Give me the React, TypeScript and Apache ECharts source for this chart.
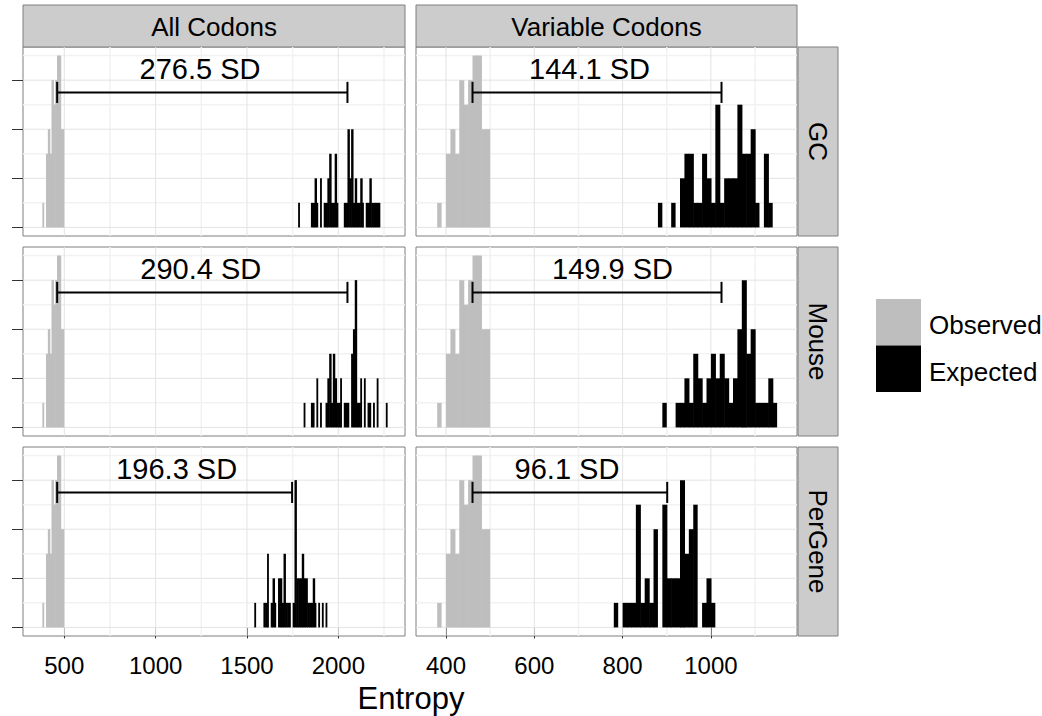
import React, { useEffect, useRef } from "react";
import * as echarts from "echarts";

const rowLabels = ["GC", "Mouse", "PerGene"];
const colLabels = ["All Codons", "Variable Codons"];
const legendLabels = ["Observed", "Expected"];
const xAxisTitle = "Entropy";

const binWidth = 10;

// histogram bins: [bin start, count]
const observedBins = [[380,1],[400,3],[410,4],[420,3],[430,6],[440,5],[450,6],[460,7],[470,7],[480,4],[490,4]];

const gcAllBins = [[1780,1],[1850,1],[1860,1],[1870,2],[1880,1],[1900,2],[1920,1],[1930,1],[1940,2],[1950,3],[1960,1],[1970,1],[1980,3],[1990,1],[2030,1],[2040,1],[2050,4],[2060,2],[2070,4],[2080,1],[2090,2],[2100,1],[2110,1],[2120,2],[2130,1],[2150,1],[2160,1],[2170,2],[2180,1],[2190,1],[2200,1],[2210,1],[2220,1]];
const gcVarBins = [[880,1],[910,1],[930,2],[940,3],[950,3],[960,1],[970,1],[980,3],[990,2],[1000,1],[1010,5],[1020,1],[1030,2],[1040,2],[1050,2],[1060,5],[1070,3],[1080,3],[1090,4],[1100,1],[1120,3],[1130,1]];
const mouseAllBins = [[1810,1],[1850,1],[1860,1],[1880,2],[1900,1],[1930,1],[1940,2],[1950,3],[1960,1],[1970,3],[1980,2],[1990,1],[2000,1],[2010,2],[2030,1],[2040,1],[2050,1],[2070,3],[2080,4],[2090,6],[2100,1],[2110,1],[2120,2],[2140,2],[2160,1],[2170,1],[2190,1],[2210,2],[2260,1]];
const mouseVarBins = [[890,1],[920,1],[930,1],[940,2],[950,1],[960,3],[970,2],[980,1],[990,2],[1000,3],[1010,2],[1020,3],[1030,2],[1040,1],[1050,2],[1060,4],[1070,6],[1080,3],[1090,4],[1100,1],[1110,1],[1120,1],[1130,2],[1140,1]];
const perGeneAllBins = [[1540,1],[1590,1],[1600,1],[1610,3],[1630,1],[1640,2],[1650,1],[1670,2],[1680,2],[1690,1],[1700,3],[1710,1],[1720,1],[1730,1],[1750,1],[1760,6],[1770,2],[1780,2],[1790,2],[1800,3],[1810,2],[1820,2],[1830,1],[1840,1],[1850,1],[1860,2],[1870,1],[1890,1],[1910,1],[1930,1]];
const perGeneVarBins = [[780,1],[800,1],[810,1],[820,1],[830,5],[840,1],[850,2],[860,1],[870,4],[890,5],[900,2],[910,2],[920,2],[930,6],[940,3],[950,4],[960,5],[980,1],[990,2],[1000,1]];

const expectedByPanel = [gcAllBins, gcVarBins, mouseAllBins, mouseVarBins, perGeneAllBins, perGeneVarBins];

// distance annotations
const sdLabels = ["276.5 SD", "144.1 SD", "290.4 SD", "149.9 SD", "196.3 SD", "96.1 SD"];
const sdLabelX = [1243, 725, 1247, 777, 1115, 674];
const sdLabelY = 6.45;
const sdBarStart = [461, 460, 461, 460, 461, 460];
const sdBarEnd = [2050, 1024, 2050, 1024, 1747, 901];
const sdBarY = 5.5;
const sdCapHalf = 0.43;

// axes
const xRangeAll = [274, 2365];
const xRangeVar = [332, 1195];
const xTicksAll = [500, 1000, 1500, 2000];
const xMinorAll = [750, 1250, 1750, 2250];
const xTicksVar = [400, 600, 800, 1000];
const xMinorVar = [500, 700, 900, 1100];
const yRange = [-0.35, 7.35];
const yTicks = [0, 2, 4, 6];
const yMinor = [1, 3, 5, 7];

const FONT = "'Liberation Sans', Arial, Helvetica, sans-serif";
const OBS_COLOR = "#BEBEBE";
const EXP_COLOR = "#000000";
const BORDER = "#7F7F7F";
const STRIP_FILL = "#CCCCCC";

const colLeft = [23, 416];
const colWidth = [382, 381];
const rowTop = [47, 247, 447];
const rowHeight = 189;

function buildOption() {
  const grid: any[] = [];
  const xAxis: any[] = [];
  const yAxis: any[] = [];
  const series: any[] = [];
  const graphic: any[] = [];

  for (let r = 0; r < 3; r++) {
    for (let c = 0; c < 2; c++) {
      const i = r * 2 + c;
      const xr = c === 0 ? xRangeAll : xRangeVar;
      const major = c === 0 ? xTicksAll : xTicksVar;
      const minor = c === 0 ? xMinorAll : xMinorVar;
      grid.push({
        left: colLeft[c], top: rowTop[r], width: colWidth[c], height: rowHeight,
        show: true, backgroundColor: "#FFFFFF", borderColor: BORDER, borderWidth: 1,
        containLabel: false, outerBoundsMode: "none",
      });
      xAxis.push({
        type: "value", gridIndex: i, min: xr[0], max: xr[1],
        axisLine: { show: false }, splitLine: { show: false },
        axisTick: { show: r === 2, customValues: major, length: 11, lineStyle: { color: "#333333", width: 1 } },
        axisLabel: {
          show: r === 2, customValues: major, fontSize: 24, color: "#000000", fontFamily: FONT, margin: 17,
          formatter: (v: number) => String(v),
        },
      });
      yAxis.push({
        type: "value", gridIndex: i, min: yRange[0], max: yRange[1],
        axisLine: { show: false }, splitLine: { show: false },
        axisTick: { show: c === 0, customValues: yTicks, length: 11, lineStyle: { color: "#333333", width: 1 } },
        axisLabel: { show: false, customValues: yTicks },
      });

      // grid lines
      const gl: any[] = [];
      minor.forEach((v) => gl.push([0, v, 0]));
      yMinor.forEach((v) => gl.push([1, v, 0]));
      major.forEach((v) => gl.push([0, v, 1]));
      yTicks.forEach((v) => gl.push([1, v, 1]));
      series.push({
        type: "custom", xAxisIndex: i, yAxisIndex: i, z: 1, silent: true,
        data: gl,
        renderItem: (params: any, api: any) => {
          const cs = params.coordSys;
          const orient = api.value(0);
          const v = api.value(1);
          const isMajor = api.value(2) === 1;
          const style = { stroke: isMajor ? "#E3E3E3" : "#F2F2F2", lineWidth: isMajor ? 1 : 1.5 };
          if (orient === 0) {
            const x = api.coord([v, 0])[0];
            return { type: "line", shape: { x1: x, y1: cs.y, x2: x, y2: cs.y + cs.height }, style };
          }
          const y = api.coord([xr[0], v])[1];
          return { type: "line", shape: { x1: cs.x, y1: y, x2: cs.x + cs.width, y2: y }, style };
        },
      });

      // histograms
      const mkHist = (name: string, bins: number[][], color: string) => {
        const starts = new Set(bins.map((b) => b[0]));
        return {
          type: "custom", name, xAxisIndex: i, yAxisIndex: i, z: 2, silent: true,
          data: bins.map(([s, n]) => [s, s + binWidth, n, starts.has(s + binWidth) ? 1 : 0]),
          encode: { x: [0, 1], y: 2 },
          renderItem: (params: any, api: any) => {
            const p0 = api.coord([api.value(0), 0]);
            const p1 = api.coord([api.value(1), api.value(2)]);
            const overlap = api.value(3) === 1 ? 0.6 : 0;
            return {
              type: "rect",
              shape: { x: p0[0], y: p1[1], width: p1[0] - p0[0] + overlap, height: p0[1] - p1[1] },
              style: { fill: color },
            };
          },
        };
      };
      series.push(mkHist(legendLabels[0], observedBins, OBS_COLOR));
      series.push(mkHist(legendLabels[1], expectedByPanel[i], EXP_COLOR));

      // error bar + label
      series.push({
        type: "custom", xAxisIndex: i, yAxisIndex: i, z: 3, silent: true,
        data: [[sdBarStart[i], sdBarEnd[i], sdBarY, sdLabelX[i], sdLabelY]],
        renderItem: (params: any, api: any) => {
          const a = api.coord([api.value(0), api.value(2)]);
          const b = api.coord([api.value(1), api.value(2)]);
          const capT = api.coord([api.value(0), api.value(2) + sdCapHalf])[1];
          const capB = api.coord([api.value(0), api.value(2) - sdCapHalf])[1];
          const t = api.coord([api.value(3), api.value(4)]);
          const ls = { stroke: "#000000", lineWidth: 2 };
          return {
            type: "group",
            children: [
              { type: "line", shape: { x1: a[0], y1: a[1], x2: b[0], y2: b[1] }, style: ls },
              { type: "line", shape: { x1: a[0], y1: capT, x2: a[0], y2: capB }, style: ls },
              { type: "line", shape: { x1: b[0], y1: capT, x2: b[0], y2: capB }, style: ls },
              {
                type: "text", x: t[0], y: t[1],
                style: { text: sdLabels[i], fontSize: 29, fontFamily: FONT, fill: "#000000", align: "center", verticalAlign: "middle" },
              },
            ],
          };
        },
      });
    }
  }

  // column strips
  for (let c = 0; c < 2; c++) {
    graphic.push({
      type: "rect", shape: { x: colLeft[c], y: 5, width: colWidth[c], height: 42 },
      style: { fill: STRIP_FILL, stroke: BORDER, lineWidth: 1 },
    });
    graphic.push({
      type: "text", x: colLeft[c] + colWidth[c] / 2, y: 27,
      style: { text: colLabels[c], fontSize: 26, fontFamily: FONT, fill: "#000000", align: "center", verticalAlign: "middle" },
    });
  }
  // row strips
  for (let r = 0; r < 3; r++) {
    graphic.push({
      type: "rect", shape: { x: 798, y: rowTop[r], width: 40, height: rowHeight },
      style: { fill: STRIP_FILL, stroke: BORDER, lineWidth: 1 },
    });
    graphic.push({
      type: "text", x: 818, y: rowTop[r] + rowHeight / 2, rotation: -Math.PI / 2,
      style: { text: rowLabels[r], fontSize: 26, fontFamily: FONT, fill: "#000000", align: "center", verticalAlign: "middle" },
    });
  }
  // x axis title
  graphic.push({
    type: "text", x: 411, y: 698,
    style: { text: xAxisTitle, fontSize: 31, fontFamily: FONT, fill: "#000000", align: "center", verticalAlign: "middle" },
  });
  // legend
  const legendColors = [OBS_COLOR, EXP_COLOR];
  for (let k = 0; k < 2; k++) {
    graphic.push({
      type: "rect", shape: { x: 876, y: 299 + k * 46.5, width: 45, height: 46.5 },
      style: { fill: legendColors[k] },
    });
    graphic.push({
      type: "text", x: 929, y: 325 + k * 47,
      style: { text: legendLabels[k], fontSize: 26, fontFamily: FONT, fill: "#000000", align: "left", verticalAlign: "middle" },
    });
  }

  return {
    animation: false,
    backgroundColor: "#FFFFFF",
    textStyle: { fontFamily: FONT },
    grid, xAxis, yAxis, series, graphic,
  };
}

export default function App() {
  const ref = useRef<HTMLDivElement>(null);
  useEffect(() => {
    if (!ref.current) return;
    const chart = echarts.init(ref.current, null, { renderer: "svg" });
    chart.setOption(buildOption() as any);
    return () => chart.dispose();
  }, []);
  return (
    <div
      ref={ref}
      style={{ position: "absolute", left: 0, top: 0, width: 1042, height: 716 }}
    />
  );
}
